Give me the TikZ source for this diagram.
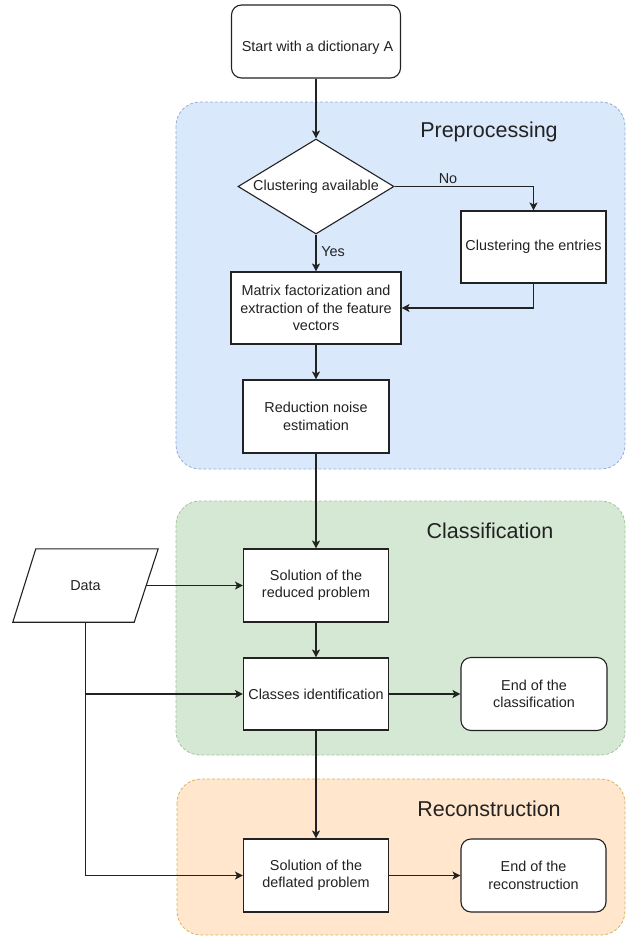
\documentclass[tikz,border=0pt]{standalone}
\usepackage{fontspec}
\setmainfont{Liberation Sans}
\usetikzlibrary{arrows.meta,shapes.geometric}
\definecolor{bluefill}{HTML}{DAE8FC}
\definecolor{bluedraw}{HTML}{93ADD3}
\definecolor{greenfill}{HTML}{D5E8D4}
\definecolor{greendraw}{HTML}{A3C49A}
\definecolor{orangefill}{HTML}{FFE6CC}
\definecolor{orangedraw}{HTML}{D9B45E}
\definecolor{ink}{HTML}{222222}
\begin{document}
\begin{tikzpicture}[x=1pt,y=-1pt,
  every node/.style={font=\fontsize{14.4}{17.5}\selectfont, text=ink},
  panel/.style={dash pattern=on 3pt off 2pt, rounded corners=24pt, line width=0.8pt},
  procbox/.style={draw=ink, fill=white, line width=1.1pt, align=center, inner sep=2pt},
  termbox/.style={procbox, rounded corners=10pt},
  conn/.style={draw=ink, line width=1.1pt, -{Stealth[length=8pt,width=8pt,inset=2pt]}},
  plainline/.style={draw=ink, line width=1.1pt},
  paneltitle/.style={font=\fontsize{21.5}{26}\selectfont}
]
\useasboundingbox (0,0) rectangle (626,937);

% panels
\draw[panel, fill=bluefill, draw=bluedraw] (176,102) rectangle (625,469);
\draw[panel, fill=greenfill, draw=greendraw] (176,501) rectangle (625,755);
\draw[panel, fill=orangefill, draw=orangedraw] (177,779) rectangle (625,935);
\node[paneltitle] (t1) at (489,132) {Preprocessing};
\node[paneltitle] (t2) at (490,531) {Classification};
\node[paneltitle] (t3) at (489,809) {Reconstruction};

% nodes
\node[termbox, minimum width=169pt, minimum height=73pt] (start) at (316,41.5) {};
\node (startlbl) at (317.5,48) {Start with a dictionary A};
\node[diamond, draw=ink, fill=white, line width=1.1pt, minimum width=156pt, minimum height=95pt, inner sep=0pt, shape aspect=1.64] (dec) at (316,186.5) {Clustering available};
\node[procbox, minimum width=145pt, minimum height=72pt] (clus) at (533.5,247) {Clustering the entries};
\node[procbox, minimum width=170pt, minimum height=72pt] (mat) at (316,308) {Matrix factorization and\\extraction of the feature\\vectors};
\node[procbox, minimum width=146pt, minimum height=73pt] (red) at (316,416.5) {Reduction noise\\estimation};
\node[procbox, minimum width=145pt, minimum height=73pt] (solr) at (316,585.5) {Solution of the\\reduced problem};
\node[procbox, minimum width=145pt, minimum height=72pt] (cls) at (316,694) {Classes identification};
\node[termbox, minimum width=146pt, minimum height=73pt] (endc) at (534,694) {End of the\\classification};
\node[procbox, minimum width=145pt, minimum height=73pt] (sold) at (316,875.5) {Solution of the\\deflated problem};
\node[termbox, minimum width=145pt, minimum height=73pt] (endr) at (533.5,875.5) {End of the\\reconstruction};

% data parallelogram
\node[minimum width=121pt, minimum height=73pt, inner sep=0pt] (data) at (85.5,585.5) {};
\draw[plainline, fill=white] ([xshift=11pt]data.north west) -- ([xshift=12pt]data.north east)
  -- ([xshift=-12pt]data.south east) -- ([xshift=-12pt]data.south west) -- cycle;
\node (datalbl) at (data.center) {Data};

% labels
\node (nolbl) at (448,179) {No};
\node (yeslbl) at (333,252) {Yes};

% connectors
\draw[conn] (start.south) -- (dec.north);
\draw[conn] (dec.east) -| (clus.north);
\draw[conn] (dec.south) -- (mat.north);
\draw[conn] (clus.south) |- (mat.east);
\draw[conn] (mat.south) -- (red.north);
\draw[conn] (red.south) -- (solr.north);
\draw[conn] (data.east) -- (solr.west);
\draw[conn] (solr.south) -- (cls.north);
\draw[conn] (data.south) |- (sold.west);
\draw[conn] (data.south |- cls.west) -- (cls.west);
\draw[conn] (cls.east) -- (endc.west);
\draw[conn] (cls.south) -- (sold.north);
\draw[conn] (sold.east) -- (endr.west);
\end{tikzpicture}
\end{document}
